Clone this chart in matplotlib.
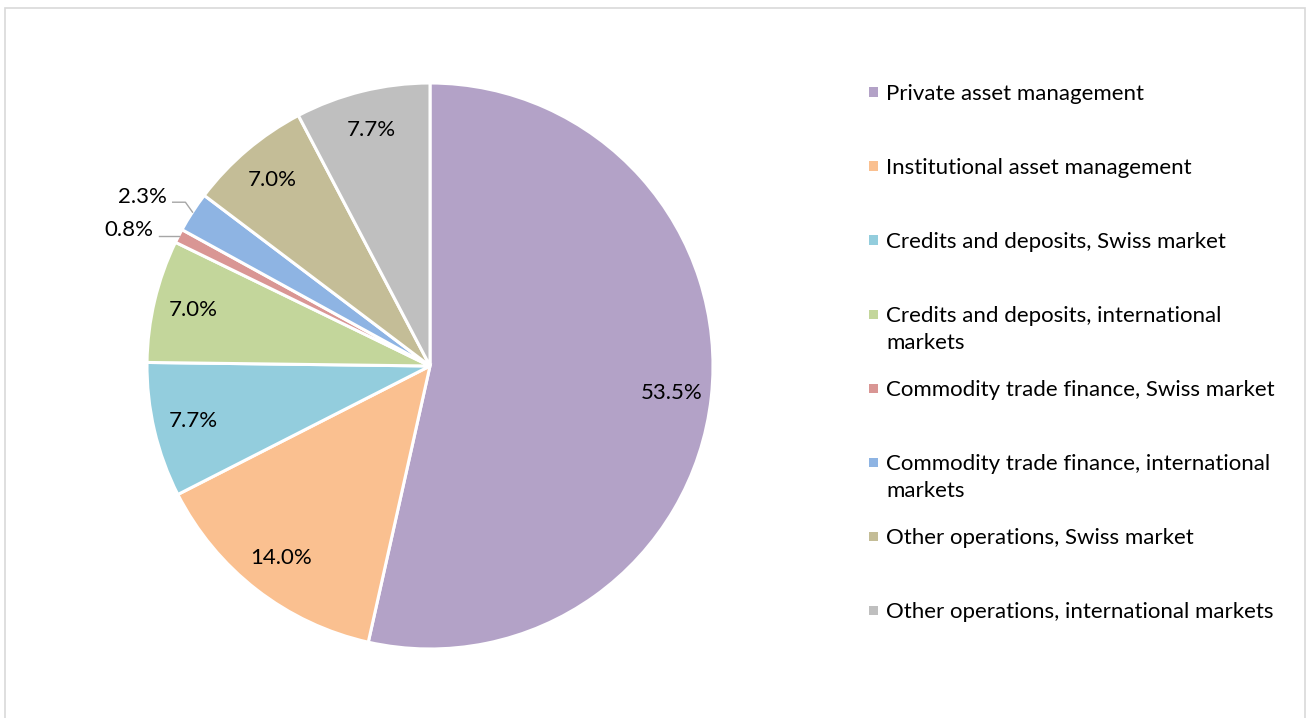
import matplotlib
matplotlib.use("Agg")
import matplotlib.pyplot as plt
from matplotlib.patches import Rectangle
import numpy as np

categories = [
    "Private asset management",
    "Institutional asset management",
    "Credits and deposits, Swiss market",
    "Credits and deposits, international\nmarkets",
    "Commodity trade finance, Swiss market",
    "Commodity trade finance, international\nmarkets",
    "Other operations, Swiss market",
    "Other operations, international markets",
]
values = [53.5, 14.0, 7.7, 7.0, 0.8, 2.3, 7.0, 7.7]
colors = ["#B3A2C7", "#FAC090", "#93CDDD", "#C3D69B",
          "#D99694", "#8EB4E3", "#C4BD97", "#BFBFBF"]
outside = [False, False, False, False, True, True, False, False]

W, H = 1306, 718
fig = plt.figure(figsize=(W / 100, H / 100), dpi=100)
plt.rcParams['font.family'] = ['Lato', 'DejaVu Sans']
FS = 16.0

# border
fig.patches.append(Rectangle((5 / W, -0.05), 1300 / W, 1.05 - 8 / H,
                             transform=fig.transFigure, fill=False,
                             edgecolor="#D9D9D9", linewidth=1.2))

cx, cy, R = 430, 718 - 366, 283
ax = fig.add_axes([(cx - R) / W, (cy - R) / H, 2 * R / W, 2 * R / H])
wedges, _ = ax.pie(values, colors=colors, startangle=90, counterclock=False,
                   radius=1.0, wedgeprops=dict(edgecolor="white", linewidth=2.2))
ax.set_xlim(-1, 1)
ax.set_ylim(-1, 1)
ax.set_aspect("equal")
ax.axis("off")

for w, v, out in zip(wedges, values, outside):
    mid = np.deg2rad((w.theta1 + w.theta2) / 2)
    txt = f"{v:.1f}%"
    if not out:
        r = 0.86
        ax.text(r * np.cos(mid), r * np.sin(mid), txt, ha="center", va="center",
                fontsize=FS, color="#000000")
    else:
        ex, ey = np.cos(mid), np.sin(mid)
        if v < 1:
            pts = [(ex, ey), (ex - 0.02, ey), (ex - 0.07, ey)]
            tx, ty = ex - 0.09, ey + 0.022
        else:
            pts = [(ex, ey), (ex - 0.025, ey + 0.035), (ex - 0.07, ey + 0.035)]
            tx, ty = ex - 0.09, ey + 0.055
        xs, ys = zip(*pts)
        ax.plot(xs, ys, color="#A6A6A6", linewidth=1.0, clip_on=False)
        ax.text(tx, ty, txt, ha="right", va="center", fontsize=FS, color="#000000")

# legend (manual, fixed slots)
y0 = 92
step = 74
for i, (lab, col) in enumerate(zip(categories, colors)):
    y = y0 + i * step
    fig.patches.append(Rectangle(((869) / W, (H - y - 4.5) / H), 9 / W, 9 / H,
                                 transform=fig.transFigure, facecolor=col,
                                 edgecolor="none"))
    fig.text(886 / W, (H - y + 8) / H, lab, ha="left", va="top",
             fontsize=FS, linespacing=1.45, color="#000000")

fig.savefig("out.png", dpi=100, facecolor="white")
